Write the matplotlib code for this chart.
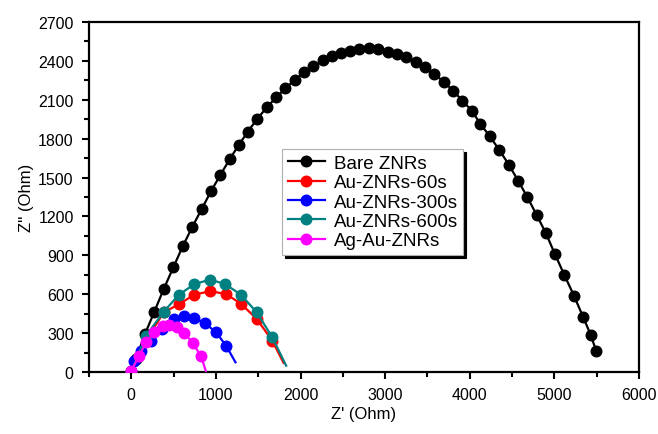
import matplotlib
matplotlib.use("Agg")
import matplotlib.pyplot as plt
from matplotlib.ticker import MultipleLocator

plt.rcParams['font.family'] = ['Liberation Sans', 'DejaVu Sans']

labels = ["Bare ZNRs", "Au-ZNRs-60s", "Au-ZNRs-300s", "Au-ZNRs-600s", "Ag-Au-ZNRs"]
colors = ["#000000", "#ff0000", "#0000ff", "#008080", "#ff00ff"]

bare_x = [0, 55, 162, 272, 383, 497, 608, 718, 832, 943, 1053, 1164, 1270, 1377, 1487,
          1602, 1712, 1822, 1933, 2040, 2150, 2260, 2371, 2473, 2580, 2690, 2808, 2919,
          3033, 3140, 3250, 3361, 3467, 3578, 3692, 3803, 3913, 4024, 4126, 4237, 4347,
          4462, 4571, 4678, 4789, 4899, 5006, 5116, 5231, 5340, 5430, 5495, 5510]
bare_y = [10, 100, 293, 465, 640, 808, 970, 1116, 1257, 1396, 1520, 1643, 1751, 1854, 1952,
          2042, 2119, 2188, 2255, 2312, 2358, 2404, 2435, 2461, 2479, 2492, 2497, 2492,
          2471, 2453, 2427, 2389, 2350, 2299, 2240, 2170, 2093, 2016, 1913, 1818, 1715,
          1599, 1476, 1352, 1213, 1072, 910, 751, 589, 424, 285, 160, 125]

au60_x = [0, 190, 383, 568, 746, 931, 1120, 1298, 1483, 1665, 1800]
au60_y = [0, 260, 460, 525, 597, 623, 602, 525, 409, 242, 70]

au300_x = [0, 36, 115, 233, 363, 501, 627, 746, 872, 1002, 1120, 1231]
au300_y = [0, 87, 164, 242, 332, 409, 434, 414, 376, 306, 203, 75]

au600_x = [0, 174, 383, 560, 746, 931, 1109, 1298, 1483, 1665, 1830]
au600_y = [0, 280, 465, 594, 679, 712, 679, 594, 460, 268, 49]

agau_x = [0, 95, 174, 272, 371, 450, 541, 627, 726, 825, 884]
agau_y = [10, 126, 229, 306, 352, 363, 345, 301, 224, 121, 0]

series = [(bare_x, bare_y), (au60_x, au60_y), (au300_x, au300_y),
          (au600_x, au600_y), (agau_x, agau_y)]

fig = plt.figure(figsize=(6.58, 4.35), dpi=100)
ax = fig.add_axes([89/658, 62/435, 550/658, 350/435])

for i, ((xs, ys), lab, c) in enumerate(zip(series, labels, colors)):
    ax.plot(xs, ys, '-o', color=c, label=lab, lw=1.6, ms=7.6,
            markevery=slice(0, len(xs) - 1), zorder=2 + i)

ax.set_xlim(-500, 6000)
ax.set_ylim(0, 2700)
ax.xaxis.set_major_locator(MultipleLocator(1000))
ax.xaxis.set_minor_locator(MultipleLocator(500))
ax.yaxis.set_major_locator(MultipleLocator(300))
ax.yaxis.set_minor_locator(MultipleLocator(150))
ax.tick_params(which='major', direction='out', length=5, width=1.5, labelsize=11.5, pad=6)
ax.tick_params(which='minor', direction='out', length=3.5, width=1.5)
ax.tick_params(top=False, right=False)
for s in ax.spines.values():
    s.set_linewidth(1.6)

ax.set_xlabel("Z' (Ohm)", fontsize=12, labelpad=3)
ax.set_ylabel("Z'' (Ohm)", fontsize=12, labelpad=3)

leg = ax.legend(loc='upper left', bbox_to_anchor=(0.351, 0.637), borderaxespad=0,
                fontsize=13.5, labelspacing=0.12, handlelength=2.0, handletextpad=0.45,
                borderpad=0.3, fancybox=False, framealpha=1,
                shadow={'color': 'black', 'alpha': 1})
leg.get_frame().set_edgecolor('#b0b0b0')
leg.get_frame().set_linewidth(0.8)
leg.set_zorder(20)

fig.savefig("out.png", dpi=100)
